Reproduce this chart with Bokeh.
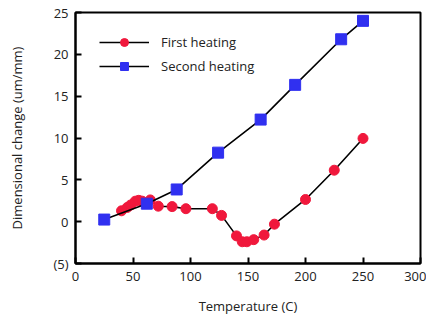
from bokeh.plotting import figure
from bokeh.models import FixedTicker, Range1d
from bokeh.embed import file_html
from bokeh.resources import INLINE

first_x = [40, 45, 48, 52, 55, 58, 65, 72, 84, 96, 119, 127, 140, 145, 149, 155, 164, 173, 200, 225, 250]
first_y = [1.3, 1.7, 2.0, 2.45, 2.55, 2.45, 2.6, 1.85, 1.8, 1.55, 1.55, 0.75, -1.7, -2.4, -2.4, -2.15, -1.6, -0.3, 2.65, 6.15, 9.95]

second_x = [25, 62, 88, 124, 161, 191, 231, 250]
second_y = [0.25, 2.15, 3.85, 8.25, 12.2, 16.35, 21.8, 24.0]

x_ticks = [0, 50, 100, 150, 200, 250, 300]
y_ticks = [-5, 0, 5, 10, 15, 20, 25]
y_tick_labels = {-5: "(5)"}

FONT = "Open Sans"
TXT = "#222222"

p = figure(width=426, height=317, output_backend="svg", toolbar_location=None,
           x_range=Range1d(0, 300), y_range=Range1d(-5, 25),
           min_border_left=75, min_border_right=6, min_border_top=12, min_border_bottom=52)

p.grid.visible = False
p.outline_line_color = "black"
p.outline_line_width = 2
p.background_fill_color = "white"
p.border_fill_color = "white"

p.line(first_x, first_y, line_color="black", line_width=1.6, legend_label="First heating")
p.scatter(first_x, first_y, marker="circle", size=10, fill_color="#f0183c", line_color="#f0183c",
          legend_label="First heating")
p.line(second_x, second_y, line_color="black", line_width=1.6, legend_label="Second heating")
p.scatter(second_x, second_y, marker="square", size=11, fill_color="#3030f0", line_color="#3030f0",
          legend_label="Second heating")

p.xaxis.ticker = FixedTicker(ticks=x_ticks)
p.yaxis.ticker = FixedTicker(ticks=y_ticks)
p.yaxis.major_label_overrides = y_tick_labels

for ax in (p.xaxis[0], p.yaxis[0]):
    ax.axis_line_width = 2
    ax.axis_line_color = "black"
    ax.major_tick_in = 6
    ax.major_tick_out = 0
    ax.major_tick_line_width = 2
    ax.minor_tick_line_color = None
    ax.major_label_text_font = FONT
    ax.major_label_text_font_size = "13px"
    ax.major_label_text_color = TXT
    ax.axis_label_text_font = FONT
    ax.axis_label_text_font_size = "13px"
    ax.axis_label_text_font_style = "normal"
    ax.axis_label_text_color = TXT

p.xaxis.axis_label = "Temperature (C)"
p.yaxis.axis_label = "Dimensional change (um/mm)"
p.xaxis.major_label_standoff = 8
p.yaxis.major_label_standoff = 7
p.xaxis.axis_label_standoff = 13
p.yaxis.axis_label_standoff = 24

lg = p.legend[0]
lg.location = (24, 187)
lg.margin = 0
lg.padding = 0
lg.border_line_color = None
lg.background_fill_alpha = 0
lg.glyph_width = 50
lg.glyph_height = 20
lg.label_height = 20
lg.spacing = 4
lg.label_standoff = 12
lg.label_text_font = FONT
lg.label_text_font_size = "13px"
lg.label_text_color = TXT

open("out.html", "w").write(file_html(p, INLINE))
